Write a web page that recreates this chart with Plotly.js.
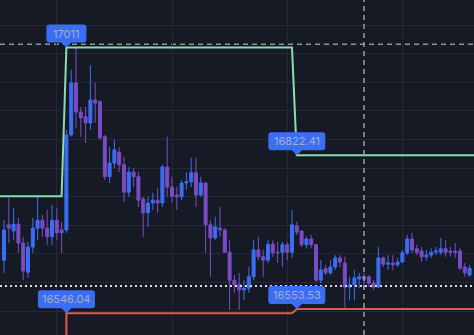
<!DOCTYPE html>
<html>
<head>
<meta charset="utf-8">
<script src="https://cdn.plot.ly/plotly-3.0.1.min.js"></script>
<style>
html,body{margin:0;padding:0;background:#161a25;}
#chart{width:474px;height:335px;}
</style>
</head>
<body>
<div id="chart"></div>
<script>
// Candle values (index = bar number)
const openP  = [16639,16701,16690,16702,16669,16618,16662,16695,16709,16695,16680,16709,16692,16692,16858,16949,16898,16890,16879,16919,
                16916,16855,16785,16809,16828,16806,16758,16793,16785,16746,16722,16739,16744,16739,16802,16767,16753,16750,16774,16776,
                16792,16753,16774,16701,16678,16695,16692,16653,16604,16596,16587,16590,16610,16657,16645,16639,16667,16653,16653,16666,
                16653,16699,16690,16666,16676,16666,16604,16624,16617,16627,16643,16634,16592,16596,16606,16610,16610,16599,16592,16643,
                16632,16634,16631,16636,16652,16676,16659,16655,16645,16648,16653,16653,16659,16655,16655,16655,16627,16613];
const highP  = [16709,16748,16730,16713,16680,16671,16713,16750,16718,16727,16736,16730,16706,16867,16972,17010,16907,16907,16980,16949,
                16919,16858,16837,16849,16837,16820,16802,16800,16793,16750,16750,16757,16765,16806,16855,16785,16767,16779,16793,16818,
                16818,16785,16776,16709,16715,16732,16695,16674,16613,16617,16604,16627,16674,16680,16657,16674,16674,16671,16671,16671,
                16727,16706,16692,16680,16683,16667,16639,16631,16639,16648,16648,16645,16610,16622,16617,16617,16613,16604,16662,16645,
                16648,16648,16643,16657,16683,16687,16666,16662,16657,16660,16662,16678,16674,16662,16669,16660,16634,16631];
const lowP   = [16617,16669,16674,16652,16604,16608,16652,16674,16680,16666,16666,16674,16652,16687,16855,16870,16855,16844,16867,16879,
                16849,16779,16774,16800,16793,16741,16750,16767,16732,16680,16697,16727,16722,16732,16750,16739,16727,16744,16762,16767,
                16732,16750,16652,16610,16674,16680,16652,16552,16582,16552,16569,16582,16604,16639,16610,16634,16645,16634,16627,16639,
                16643,16683,16662,16660,16660,16601,16599,16613,16613,16622,16627,16552,16569,16569,16590,16587,16592,16587,16590,16627,
                16622,16622,16627,16634,16648,16652,16648,16636,16639,16643,16648,16648,16645,16645,16643,16622,16610,16610];
const closeP = [16692,16695,16702,16669,16620,16662,16695,16709,16695,16680,16709,16687,16687,16858,16949,16898,16888,16879,16919,16914,
                16853,16785,16809,16832,16806,16758,16793,16785,16744,16722,16739,16744,16739,16802,16767,16751,16750,16774,16776,16792,
                16753,16774,16701,16678,16697,16692,16653,16604,16596,16587,16590,16610,16657,16645,16639,16667,16652,16652,16666,16653,
                16701,16688,16666,16676,16666,16604,16622,16617,16627,16643,16636,16592,16596,16608,16610,16606,16599,16592,16643,16632,
                16634,16631,16636,16652,16676,16657,16653,16645,16648,16653,16655,16659,16653,16653,16653,16625,16617,16625];

// Upper level (green) and lower level (red) step lines
const upperX = [-2, 12, 13, 60, 61, 99];
const upperY = [16751, 16751, 17011, 17011, 16822.41, 16822.41];
const lowerX = [13, 13, 60, 61, 99];
const lowerY = [16300, 16546.04, 16546.04, 16553.53, 16553.53];

// Callout labels: bar index, price, text
const labelX = [13, 61, 13, 61];
const labelY = [17011, 16822.41, 16546.04, 16553.53];
const labelText = ['17011', '16822.41', '16546.04', '16553.53'];

// Reference lines
const topDashedLevel = 17016.6;
const dottedLevel = 16594;
const crosshairBar = 75;

const barIdx = openP.map((_, i) => i);

const UP = '#3b6ef5', DOWN = '#7a4cc6', BG = '#161a25', GRID = '#232736';

const traces = [
  {
    type: 'candlestick', x: barIdx, open: openP, high: highP, low: lowP, close: closeP,
    increasing: {line: {color: UP, width: 1}, fillcolor: UP},
    decreasing: {line: {color: DOWN, width: 1}, fillcolor: DOWN},
    whiskerwidth: 0, hoverinfo: 'skip', showlegend: false
  },
  {type: 'scatter', mode: 'lines', x: upperX, y: upperY, line: {color: '#8cdcae', width: 2}, hoverinfo: 'skip', showlegend: false},
  {type: 'scatter', mode: 'lines', x: lowerX, y: lowerY, line: {color: '#e05a4c', width: 2}, hoverinfo: 'skip', showlegend: false}
];

const shapes = [
  {type: 'line', xref: 'paper', x0: 0, x1: 1, yref: 'y', y0: topDashedLevel, y1: topDashedLevel,
   line: {color: '#8e93a0', width: 1.5, dash: '5px,4px'}, layer: 'below'},
  {type: 'line', xref: 'paper', x0: 0, x1: 1, yref: 'y', y0: dottedLevel, y1: dottedLevel,
   line: {color: '#d6dae2', width: 2, dash: '2px,3px'}},
  {type: 'line', xref: 'x', x0: crosshairBar, x1: crosshairBar, yref: 'paper', y0: 0, y1: 1,
   line: {color: '#9a9eaa', width: 1.5, dash: '5px,4px'}}
];

const annotations = [];
labelText.forEach((t, k) => {
  const w = Math.round(12 + 5.6 * t.length), h = 18, p = 5, r = 3, hw = w / 2;
  const path = `M0,0 L-${p},${p} L${-hw + r},${p} Q${-hw},${p} ${-hw},${p + r} L${-hw},${p + h - r} Q${-hw},${p + h} ${-hw + r},${p + h} ` +
               `L${hw - r},${p + h} Q${hw},${p + h} ${hw},${p + h - r} L${hw},${p + r} Q${hw},${p} ${hw - r},${p} L${p},${p} Z`;
  shapes.push({type: 'path', xref: 'x', yref: 'y', xsizemode: 'pixel', ysizemode: 'pixel',
    xanchor: labelX[k], yanchor: labelY[k], path: path, fillcolor: '#3b6ef5', line: {width: 0}, layer: 'above'});
  annotations.push({x: labelX[k], y: labelY[k], xref: 'x', yref: 'y', text: t, showarrow: false,
    yanchor: 'middle', xanchor: 'center', yshift: p + h / 2,
    font: {family: 'Inter, Roboto, sans-serif', size: 11, color: '#a3add0'}});
});

const layout = {
  width: 474, height: 335,
  margin: {l: 0, r: 0, t: 0, b: 0},
  paper_bgcolor: BG, plot_bgcolor: BG,
  showlegend: false,
  boxgap: 0.12,
  xaxis: {range: [-0.833, 97.917], showgrid: true, gridcolor: GRID, gridwidth: 1, tick0: 11, dtick: 24,
          showticklabels: false, zeroline: false, showline: false, rangeslider: {visible: false}, fixedrange: true},
  yaxis: {range: [16508.2, 17094.1], showgrid: true, gridcolor: GRID, gridwidth: 1, tick0: 0, dtick: 50,
          showticklabels: false, zeroline: false, showline: false, fixedrange: true},
  shapes: shapes,
  annotations: annotations
};

Plotly.newPlot('chart', traces, layout, {staticPlot: true, displayModeBar: false});
</script>
</body>
</html>
